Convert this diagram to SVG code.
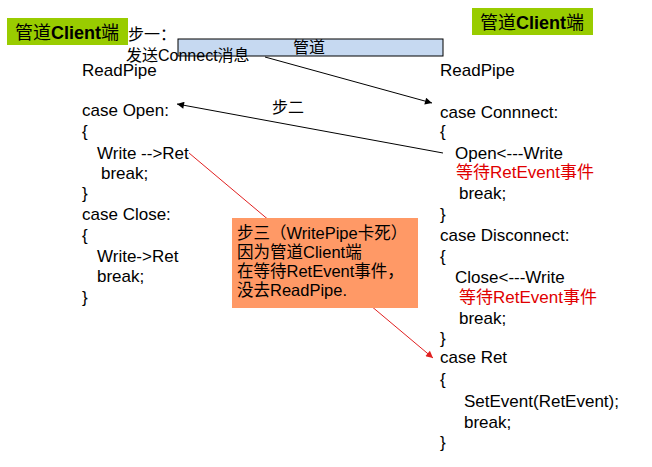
<svg xmlns="http://www.w3.org/2000/svg" width="652" height="467" viewBox="0 0 652 467">
<defs>
<style>
text{font-family:"Liberation Sans","Noto Sans CJK SC",sans-serif;fill:#000}
.c{font-size:17px}
.r{fill:#E00000}
.lab{font-size:18px}
.lab tspan.b{font-weight:bold}
.n{font-size:16px}
.o{font-size:16.5px}
.ln{stroke:#000;stroke-width:1;fill:none}
.red{stroke:#E02020;stroke-width:1;fill:none}
</style>
<marker id="ah" viewBox="0 0 10 10" refX="10" refY="5" markerWidth="9" markerHeight="7" orient="auto" markerUnits="userSpaceOnUse">
<path d="M0,0 L10,5 L0,10 z" fill="#000"/>
</marker>
<marker id="ahr" viewBox="0 0 10 10" refX="10" refY="5" markerWidth="9" markerHeight="7" orient="auto" markerUnits="userSpaceOnUse">
<path d="M0,0 L10,5 L0,10 z" fill="#E02020"/>
</marker>
</defs>
<rect width="652" height="467" fill="#fff"/>

<g id="connectors">
<line class="ln" x1="265" y1="57" x2="432" y2="103" marker-end="url(#ah)"/>
<line class="ln" x1="443" y1="153" x2="177" y2="104" marker-end="url(#ah)"/>
<line class="red" x1="189" y1="153" x2="433" y2="358" marker-end="url(#ahr)"/>
</g>

<g id="pipe">
<rect x="178" y="39" width="265" height="17" fill="#C6D9F1" stroke="#000" stroke-width="1"/>
<text class="n" x="293" y="53">管道</text>
</g>

<g id="step1">
<text class="n" x="128" y="40">步一：</text>
<text class="n" x="126" y="61">发送Connect消息</text>
</g>

<g id="step2">
<text class="n" x="272" y="113">步二</text>
</g>

<g id="label-left">
<rect x="7" y="18" width="121" height="27" fill="#99CC00"/>
<text class="lab" x="15" y="39">管道<tspan class="b">Client</tspan>端</text>
</g>

<g id="label-right">
<rect x="472" y="8" width="121" height="27" fill="#99CC00"/>
<text class="lab" x="480" y="29">管道<tspan class="b">Client</tspan>端</text>
</g>

<g id="code-left" class="c">
<text class="c" x="82" y="76">ReadPipe</text>
<text class="c" x="82" y="116">case Open:</text>
<text class="c" x="82" y="137">{</text>
<text class="c" x="97" y="159">Write --&gt;Ret</text>
<text class="c" x="101" y="179">break;</text>
<text class="c" x="82" y="199">}</text>
<text class="c" x="82" y="220">case Close:</text>
<text class="c" x="82" y="241">{</text>
<text class="c" x="97" y="262">Write-&gt;Ret</text>
<text class="c" x="97" y="282">break;</text>
<text class="c" x="82" y="303">}</text>
</g>

<g id="code-right">
<text class="c" x="440" y="76">ReadPipe</text>
<text class="c" x="440" y="118">case Connnect:</text>
<text class="c" x="440" y="137">{</text>
<text class="c" x="455" y="159">Open&lt;---Write</text>
<text class="c r" x="456" y="178">等待RetEvent事件</text>
<text class="c" x="459" y="199">break;</text>
<text class="c" x="440" y="220">}</text>
<text class="c" x="440" y="241">case Disconnect:</text>
<text class="c" x="440" y="262">{</text>
<text class="c" x="455" y="283">Close&lt;---Write</text>
<text class="c r" x="459" y="303">等待RetEvent事件</text>
<text class="c" x="459" y="324">break;</text>
<text class="c" x="440" y="344">}</text>
<text class="c" x="440" y="363">case Ret</text>
<text class="c" x="440" y="385">{</text>
<text class="c" x="464" y="407">SetEvent(RetEvent);</text>
<text class="c" x="464" y="428">break;</text>
<text class="c" x="440" y="448">}</text>
</g>

<g id="step3">
<rect x="232" y="218" width="186" height="90" fill="#FF9966"/>
<text class="o" x="237" y="239">步三（WritePipe卡死）</text>
<text class="o" x="237" y="258">因为管道Client端</text>
<text class="o" x="237" y="277">在等待RetEvent事件，</text>
<text class="o" x="237" y="296">没去ReadPipe.</text>
</g>
</svg>
